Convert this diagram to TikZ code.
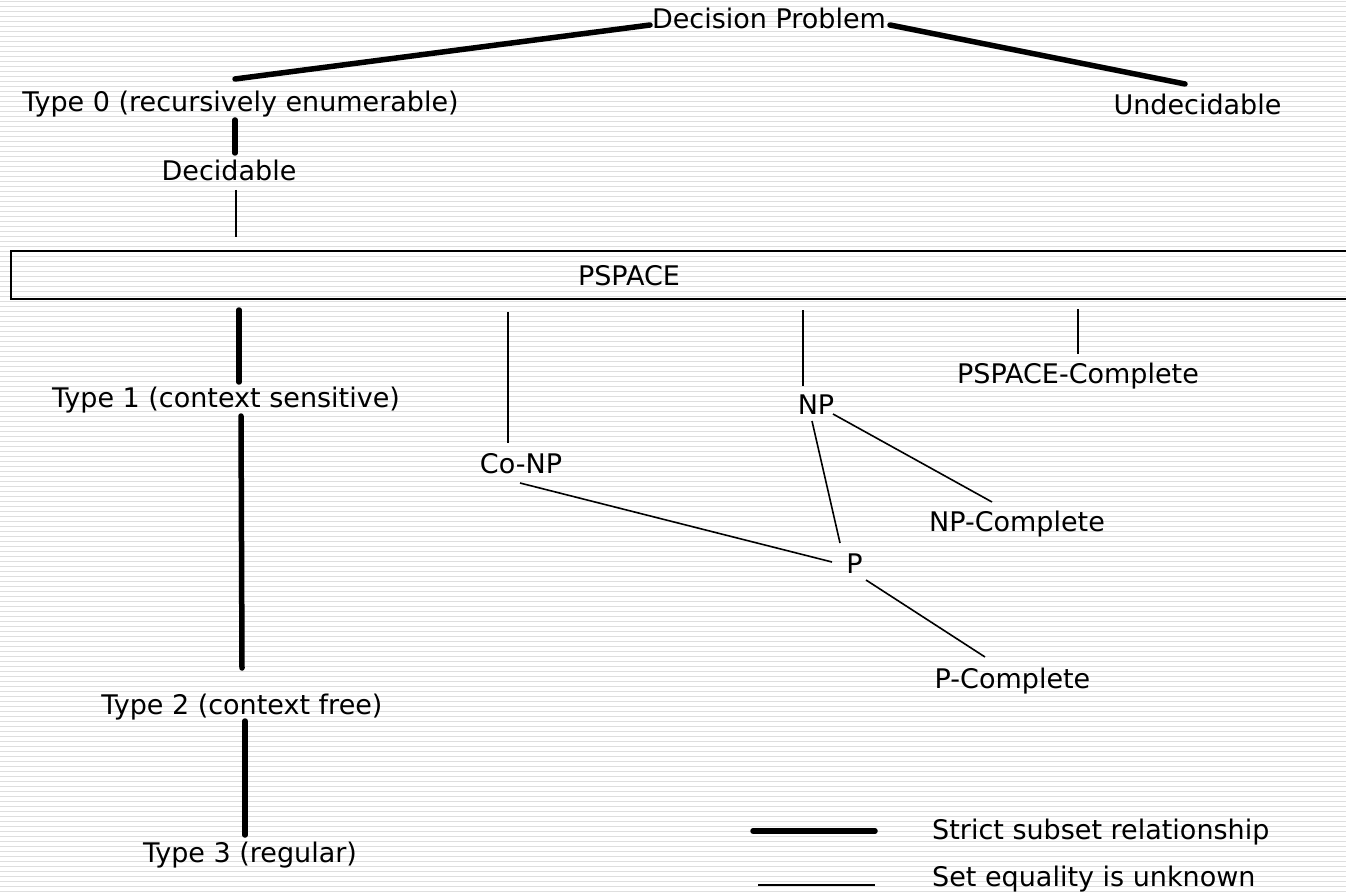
\documentclass[tikz,border=0pt]{standalone}
\usepackage{fontspec}
\setmainfont{DejaVu Sans}
\usetikzlibrary{calc}
\begin{document}
\begin{tikzpicture}[x=1pt,y=-1pt,
  lbl/.style={inner sep=0pt, anchor=base, font=\fontsize{27}{32}\selectfont},
  strict/.style={line width=5.5pt, line cap=round},
  unknown/.style={line width=1.6pt},
  stripe/.style={line width=1.6pt, draw=black!13}]
\useasboundingbox (0,0) rectangle (1346,893);
\fill[white] (0,0) rectangle (1346,893);
\foreach \k in {0,...,178} {\draw[stripe] (0,1.5+5*\k) -- (1346,1.5+5*\k);}

% nodes
\node[lbl] (dp) at (769,29) {Decision Problem};
\node[lbl] (t0) at (240.5,112) {Type 0 (recursively enumerable)};
\node[lbl] (und) at (1197.5,115) {Undecidable};
\node[lbl] (dec) at (229,181) {Decidable};
\node[draw, line width=2pt, inner sep=0pt, minimum width=1360pt, minimum height=48pt, anchor=north west] (box) at (10,250) {};
\node[lbl] (pslab) at (629,286) {PSPACE};
\node[lbl] (t1) at (226,407) {Type 1 (context sensitive)};
\node[lbl] (t2) at (242,714) {Type 2 (context free)};
\node[lbl] (t3) at (250,862) {Type 3 (regular)};
\node[lbl] (conp) at (521,473) {Co-NP};
\node[lbl] (np) at (816,414) {NP};
\node[lbl] (pspc) at (1078,383) {PSPACE-Complete};
\node[lbl] (npc) at (1017,531) {NP-Complete};
\node[lbl] (p) at (854.5,573) {P};
\node[lbl] (pcomp) at (1012.5,688) {P-Complete};

% connectors
\draw[strict] ($(dp.base)+(-119,-4)$) -- ($(t0.base)+(-5.5,-33)$);
\draw[strict] ($(dp.base)+(121,-4)$) -- ($(und.base)+(-12.5,-31)$);
\draw[strict] ($(t0.base)+(-5.5,8)$) -- ($(dec.base)+(6,-28)$);
\draw[unknown] ($(dec.base)+(7,9)$) -- ($(box.north west)+(226,-13)$);
\draw[strict] ($(box.south west)+(229,10)$) -- ($(t1.base)+(13,-25)$);
\draw[strict] ($(t1.base)+(15,9)$) -- ($(t2.base)+(0,-46)$);
\draw[strict] ($(t2.base)+(3,7)$) -- ($(t3.base)+(-5,-27)$);
\draw[unknown] ($(box.south west)+(498,12)$) -- ($(conp.base)+(-13,-30)$);
\draw[unknown] ($(box.south west)+(793,10)$) -- ($(np.base)+(-13,-28)$);
\draw[unknown] ($(box.south west)+(1068,9)$) -- ($(pspc.base)+(0,-29)$);
\draw[unknown] ($(np.base)+(-4,7)$) -- ($(p.base)+(-14.5,-30)$);
\draw[unknown] ($(np.base)+(17,0)$) -- ($(npc.base)+(-25,-29)$);
\draw[unknown] ($(conp.base)+(-1,10)$) -- ($(p.base)+(-22.5,-11)$);
\draw[unknown] ($(p.base)+(11.5,7)$) -- ($(pcomp.base)+(-27.5,-31)$);

% legend
\coordinate (la1) at (753,831);
\coordinate (la2) at (875,831);
\coordinate (lb1) at (758,885);
\coordinate (lb2) at (875,885);
\draw[strict] (la1) -- (la2);
\draw[unknown] (lb1) -- (lb2);
\node[lbl, anchor=base west] (leg1) at (932,839) {Strict subset relationship};
\node[lbl, anchor=base west] (leg2) at (932,886) {Set equality is unknown};
\end{tikzpicture}
\end{document}
